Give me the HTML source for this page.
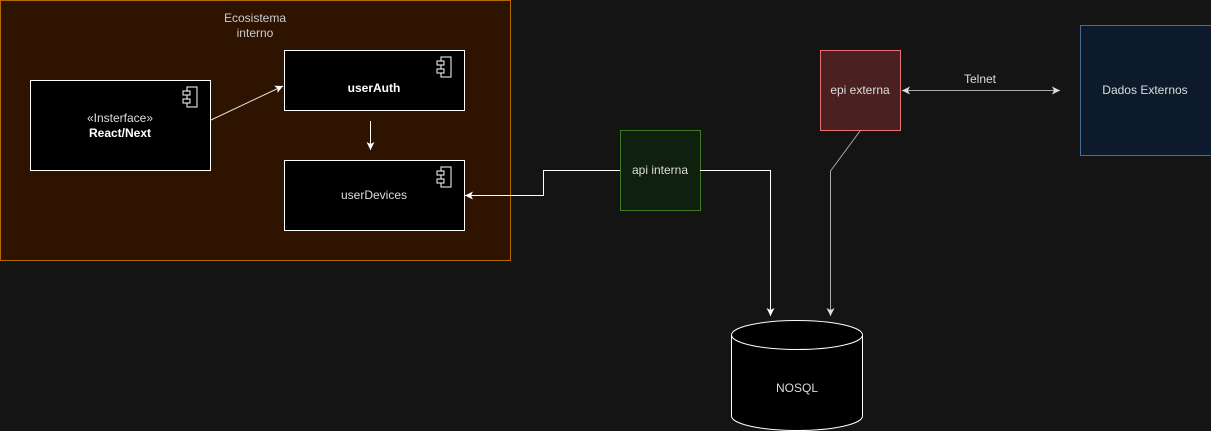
<!DOCTYPE html>
<html><head><style>
html,body{margin:0;padding:0;background:#141414;width:1211px;height:431px;overflow:hidden}
</style></head><body>
<svg width="1211" height="431" xmlns="http://www.w3.org/2000/svg" font-family="Liberation Sans, sans-serif" font-size="12">
<defs>
<marker id="aw" markerWidth="10" markerHeight="10" refX="8" refY="5" orient="auto" markerUnits="userSpaceOnUse"><path d="M0,1 L8,5 L0,9 L2,5z" fill="#fff"/></marker>
<marker id="ag" markerWidth="10" markerHeight="10" refX="8" refY="5" orient="auto-start-reverse" markerUnits="userSpaceOnUse"><path d="M0,1 L8,5 L0,9 L2,5z" fill="#ddd"/></marker>
<g id="ic"><rect x="4" y="0" width="10" height="20" fill="none" stroke="#fff"/><rect x="0" y="4" width="7" height="4" fill="#000" stroke="#fff"/><rect x="0" y="12" width="7" height="4" fill="#000" stroke="#fff"/></g>
</defs>
<rect x="0.5" y="0.5" width="510" height="260" fill="#2d1300" stroke="#b06a00"/>
<text x="255" y="22" fill="#ccc" text-anchor="middle">Ecosistema</text>
<text x="255" y="37" fill="#ccc" text-anchor="middle">interno</text>
<rect x="30.5" y="80.5" width="180" height="90" fill="#000" stroke="#fff"/>
<use href="#ic" x="183" y="87"/>
<text x="120" y="122" fill="#ddd" text-anchor="middle">«Insterface»</text>
<text x="120" y="137" fill="#fff" text-anchor="middle" font-weight="bold">React/Next</text>
<rect x="284.5" y="50.5" width="180" height="60" fill="#000" stroke="#fff"/>
<use href="#ic" x="437" y="57"/>
<text x="374" y="92" fill="#fff" text-anchor="middle" font-weight="bold">userAuth</text>
<rect x="284.5" y="160.5" width="180" height="70" fill="#000" stroke="#fff"/>
<use href="#ic" x="437" y="167"/>
<text x="374" y="199" fill="#ddd" text-anchor="middle">userDevices</text>
<line x1="211" y1="120" x2="283" y2="86" stroke="#ddd" marker-end="url(#aw)"/>
<line x1="370.5" y1="121" x2="370.5" y2="150" stroke="#fff" marker-end="url(#aw)"/>
<rect x="620.5" y="130.5" width="80" height="80" fill="#10200f" stroke="#3f7a25"/>
<text x="660" y="174" fill="#ddd" text-anchor="middle">api interna</text>
<polyline points="620,170.5 543.5,170.5 543.5,195.5 465,195.5" fill="none" stroke="#fff" marker-end="url(#aw)"/>
<polyline points="700,170.5 770.5,170.5 770.5,316" fill="none" stroke="#fff" marker-end="url(#aw)"/>
<rect x="820.5" y="50.5" width="80" height="80" fill="#4a2020" stroke="#e57373"/>
<text x="860" y="94" fill="#ddd" text-anchor="middle">epi externa</text>
<polyline points="860,131 830.5,171 830.5,316" fill="none" stroke="#aaa" marker-end="url(#ag)"/>
<line x1="902" y1="90.5" x2="1060" y2="90.5" stroke="#aaa" marker-start="url(#ag)" marker-end="url(#ag)"/>
<text x="980" y="83" fill="#ddd" text-anchor="middle">Telnet</text>
<rect x="1080.5" y="25.5" width="131" height="130" fill="#0c1a2c" stroke="#4a6a9a"/>
<text x="1145" y="94" fill="#ddd" text-anchor="middle">Dados Externos</text>
<path d="M731.5,335 A65.5,14.5 0 0 1 862.5,335 L862.5,416 A65.5,14.5 0 0 1 731.5,416 Z" fill="#000" stroke="#fff"/>
<path d="M731.5,335 A65.5,14.5 0 0 0 862.5,335" fill="none" stroke="#fff"/>
<text x="797" y="392" fill="#ddd" text-anchor="middle">NOSQL</text>
</svg>
</body></html>
